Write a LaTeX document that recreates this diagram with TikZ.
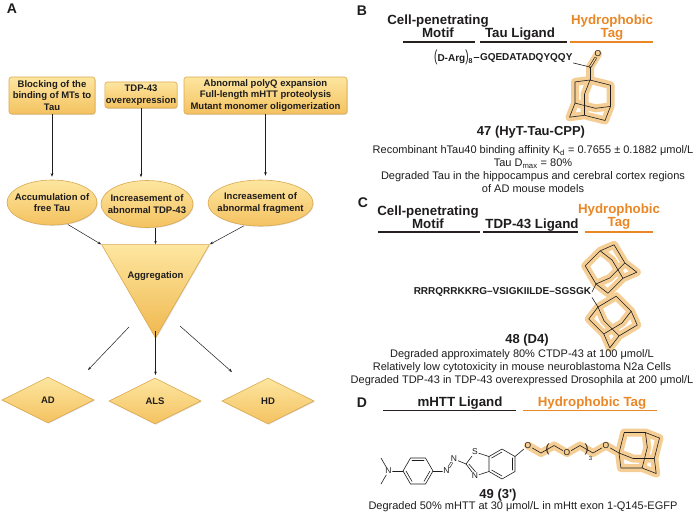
\documentclass[tikz,border=0pt]{standalone}
\usepackage{fontspec}
\setmainfont{Liberation Sans}
\usetikzlibrary{shapes.geometric,arrows.meta,calc,shadows}
\pgfdeclarelayer{bg}
\pgfsetlayers{bg,main}
\definecolor{ink}{RGB}{30,28,28}
\definecolor{hyd}{RGB}{233,135,38}
\definecolor{glowc}{RGB}{244,206,148}
\definecolor{goldT}{RGB}{253,230,160}
\definecolor{goldB}{RGB}{244,194,96}
\definecolor{goldR}{RGB}{240,184,78}
\definecolor{goldD}{RGB}{218,168,78}
\definecolor{rulec}{RGB}{40,32,30}
\tikzset{
bond/.style={line width=0.6pt, ink, line cap=round, line join=round},
glow/.style={line width=8pt, glowc, line cap=round, line join=round},
adam/.pic={
\coordinate (-b1) at (0,-21.2);
\coordinate (-b2) at (20.5,5.2);
\coordinate (-b3) at (-15,1.9);
\coordinate (-b4) at (-5.5,14.1);
\coordinate (-mx) at (20.5,-16);
\coordinate (-nx) at (-20.5,16);
\coordinate (-my) at (-15,-19.3);
\coordinate (-ny) at (15,19.3);
\coordinate (-mz) at (-5.5,-7.1);
\coordinate (-nz) at (5.5,7.1);
\begin{pgfonlayer}{bg}
\draw[glow](-b1) -- (-mx) -- (-b2) -- (-ny) -- (-b4) -- (-nx) -- (-b3) -- (-my) -- cycle (-b1) -- (-mz) -- (-b4) (-b3) -- (-nz) -- (-b2);
\end{pgfonlayer}
\draw[bond](-b1) -- (-mx) -- (-b2) -- (-ny) -- (-b4) -- (-nx) -- (-b3) -- (-my) -- cycle (-b1) -- (-mz) -- (-b4) (-b3) -- (-nz) -- (-b2);
}
}
\begin{document}
\begin{tikzpicture}[x=1pt,y=-1pt,
lab/.style={font=\bfseries\fontsize{14}{14}\selectfont, text=ink},
gold/.style={draw=goldD, line width=0.6pt, top color=goldT, bottom color=goldB, align=center, text=ink, font=\bfseries\fontsize{9.5}{11.5}\selectfont, drop shadow={opacity=0.25, shadow xshift=0.8pt, shadow yshift=-0.8pt}},
box/.style={gold, rectangle, rounded corners=2.5pt, inner sep=1pt},
ell/.style={gold, ellipse, inner sep=-12pt},
dia/.style={gold, diamond, aspect=2, inner sep=0pt, minimum width=92, minimum height=46},
tri/.style={gold, regular polygon, regular polygon sides=3, shape border rotate=180, minimum size=103, inner sep=-6pt, bottom color=goldR},
arr/.style={-{Stealth[length=3.5pt,width=2.6pt]}, line width=0.5pt, ink},
hd/.style={font=\bfseries\fontsize{13.3}{11.7}\selectfont, align=center, inner sep=0pt, anchor=base, text=ink},
hdo/.style={hd, text=hyd},
rl/.style={line width=1.6pt, rulec},
rlo/.style={line width=1.6pt, hyd},
seq/.style={font=\bfseries\fontsize{10}{11}\selectfont, inner sep=0.8pt, text=ink},
atom/.style={font=\fontsize{8.5}{9}\selectfont, inner sep=0.8pt, text=ink},
brk/.style={font=\fontsize{12}{12}\selectfont, inner sep=0pt, text=ink},
cpd/.style={font=\bfseries\fontsize{13}{14}\selectfont, text=ink},
desc/.style={font=\fontsize{11}{13}\selectfont, align=center, text=ink}]
\useasboundingbox (0,0) rectangle (700,517);
\node[lab] (labA) at (12,9){A};
\node[box, minimum width=86, minimum height=37] (box1) at (52,95.5){Blocking of the\\binding of MTs to\\Tau};
\node[box, minimum width=72, minimum height=26] (box2) at (141,95){TDP-43\\overexpression};
\node[box, minimum width=163, minimum height=37] (box3) at (265.5,95.5){Abnormal polyQ expansion\\Full-length mHTT proteolysis\\Mutant monomer oligomerization};
\node[ell, minimum width=90, minimum height=45] (ell1) at (52,202.5){Accumulation of\\free Tau};
\node[ell, minimum width=92, minimum height=47] (ell2) at (147,204){Increasement of\\abnormal TDP-43};
\node[ell, minimum width=105, minimum height=46] (ell3) at (260.5,203){Increasement of\\abnormal fragment};
\node[tri] (agg) at (155.5,275.7){Aggregation};
\node[dia] (dia1) at (48,400){AD};
\node[dia] (dia2) at (155,401){ALS};
\node[dia] (dia3) at (268,401){HD};
\coordinate (agg1) at (129,327);
\coordinate (agg2) at (155.5,331);
\coordinate (agg3) at (180,326);
\coordinate (dia1t) at (88,370);
\coordinate (dia2t) at (155.5,375);
\coordinate (dia3t) at (232,372);
\draw[arr, shorten >=3pt](box1) -- (ell1);
\draw[arr, shorten >=3pt](box2) -- (box2 |- ell2.north);
\draw[arr, shorten >=4pt](box3) -- (box3 |- ell3.north);
\draw[arr, shorten <=1pt](ell1.-55) -- (agg.corner 3);
\draw[arr](agg.90 |- ell2.south) -- (agg.90);
\draw[arr, shorten <=1pt](ell3.-125) -- (agg.corner 2);
\draw[arr](agg1) -- (dia1t);
\draw[arr](agg2) -- (dia2t);
\draw[arr](agg3) -- (dia3t);

\node[lab] (labB) at (362,11){B};
\node[hd] (hb1) at (438,37.7){Cell-penetrating\\Motif};
\node[hd] (hb2) at (520,37.7){Tau Ligand};
\node[hdo] (hb3) at (612,37.7){Hydrophobic\\Tag};
\draw[rl](403,42) -- (475,42);
\draw[rl](480,42) -- (567,42);
\draw[rlo](570,42) -- (653,42);
\node[seq, anchor=east] (darg) at (474,57.5){\scalebox{1}[1.6]{\mdseries(}D-Arg\scalebox{1}[1.6]{\mdseries)}\textsubscript{8}};
\node[seq, anchor=west] (seqB) at (479,57.5){GQEDATADQYQQY};
\coordinate (cB) at (590,67);
\node[atom] (oB) at (598,54){O};
\pic (adB) at (590,101.2){adam};
\begin{pgfonlayer}{bg}
\draw[glow](oB.center) -- (cB) -- (adB-b1);
\end{pgfonlayer}
\draw[bond](darg.east) -- (seqB.west);
\draw[bond](seqB.south east) -- (cB);
\draw[bond, double=glowc, double distance=1.3pt](cB) -- (oB);
\draw[bond](cB) -- (adB-b1);
\node[cpd] (cpd47) at (531,132){47 (HyT-Tau-CPP)};
\node[desc] (txtB) at (533,169.5){Recombinant hTau40 binding affinity K\textsubscript{d} = 0.7655 ± 0.1882 μmol/L\\Tau D\textsubscript{max} = 80\%\\Degraded Tau in the hippocampus and cerebral cortex regions\\of AD mouse models};

\node[lab] (labC) at (363,203){C};
\node[hd] (hc1) at (428,228.5){Cell-penetrating\\Motif};
\node[hd] (hc2) at (532,228.5){TDP-43 Ligand};
\node[hdo] (hc3) at (619,226.7){Hydrophobic\\Tag};
\draw[rl](378,232) -- (480,232);
\draw[rl](483,232) -- (578,232);
\draw[rlo](585,232) -- (653,232);
\node[seq, anchor=east] (seqC) at (592,292){RRRQRRKKRG–VSIGKIILDE–SGSGK};
\pic[rotate=135] (adC1) at (611,269){adam};
\pic[rotate=45] (adC2) at (613,322){adam};
\draw[bond](seqC.east) -- (adC1-b1);
\draw[bond](seqC.south east) -- (adC2-b1);
\node[cpd] (cpd48) at (527,340){48 (D4)};
\node[desc] (txtC) at (522,368){Degraded approximately 80\% CTDP-43 at 100 μmol/L\\Relatively low cytotoxicity in mouse neuroblastoma N2a Cells\\Degraded TDP-43 in TDP-43 overexpressed Drosophila at 200 μmol/L};

\node[lab] (labD) at (362,403){D};
\node[hd] (hd1) at (460,406.7){mHTT Ligand};
\node[hdo] (hd2) at (592,406.7){Hydrophobic Tag};
\draw[rl](383,410.5) -- (516,410.5);
\draw[rlo](523,410.5) -- (657,410.5);
\coordinate (me1) at (381,458);
\coordinate (me2) at (381,484);
\node[atom] (nMe) at (388.5,471){N};
\coordinate (p1) at (403,471);
\coordinate (p2) at (410.5,458);
\coordinate (p3) at (425.5,458);
\coordinate (p4) at (433,471);
\coordinate (p5) at (425.5,484);
\coordinate (p6) at (410.5,484);
\coordinate (pc) at (418,471);
\node[atom] (nA) at (446.5,471){N};
\node[atom] (nB) at (454,459){N};
\coordinate (t2) at (466,464);
\coordinate (tc) at (478.7,464);
\node[atom] (sT) at (475,452){S};
\node[atom] (nT) at (475,476){N};
\coordinate (q1) at (502,449);
\coordinate (q2) at (515,456.5);
\coordinate (q3) at (515,471.5);
\coordinate (q4) at (502,479);
\coordinate (q5) at (489,471.5);
\coordinate (q6) at (489,456.5);
\coordinate (qc) at (502,464);
\node[atom] (o1) at (528,445.5){O};
\coordinate (c1) at (541,453);
\coordinate (c2) at (554,445.5);
\node[atom] (o2) at (567,453){O};
\coordinate (c3) at (580,445.5);
\coordinate (c4) at (593,453);
\node[atom] (o3) at (606,445.5){O};
\pic[rotate=90] (adD) at (640.2,453){adam};
\begin{pgfonlayer}{bg}
\draw[glow](o1.center) -- (c1) -- (c2) -- (o2.center) -- (c3) -- (c4) -- (o3.center) -- (adD-b1);
\end{pgfonlayer}
\draw[bond](nMe) -- (me1);
\draw[bond](nMe) -- (me2);
\draw[bond](nMe) -- (p1);
\draw[bond](p1) -- (p2) -- (p3) -- (p4) -- (p5) -- (p6) -- cycle;
\draw[bond]($(p2)!0.2!(pc)$) -- ($(p3)!0.2!(pc)$);
\draw[bond]($(p4)!0.2!(pc)$) -- ($(p5)!0.2!(pc)$);
\draw[bond]($(p6)!0.2!(pc)$) -- ($(p1)!0.2!(pc)$);
\draw[bond](p4) -- (nA);
\draw[bond, double=white, double distance=1.3pt](nA) -- (nB);
\draw[bond](nB) -- (t2);
\draw[bond](t2) -- (sT);
\draw[bond](sT) -- (q6);
\draw[bond](t2) -- (nT);
\draw[bond, shorten >=1pt]($(t2)!0.22!(tc)$) -- ($(nT.center)!0.3!(tc)$);
\draw[bond](nT) -- (q5);
\draw[bond](q1) -- (q2) -- (q3) -- (q4) -- (q5) -- (q6) -- cycle;
\draw[bond]($(q2)!0.2!(qc)$) -- ($(q3)!0.2!(qc)$);
\draw[bond]($(q4)!0.2!(qc)$) -- ($(q5)!0.2!(qc)$);
\draw[bond]($(q6)!0.2!(qc)$) -- ($(q1)!0.2!(qc)$);
\draw[bond](q2) -- (o1);
\draw[bond](o1) -- (c1) -- (c2) -- (o2);
\draw[bond](o2) -- (c3) -- (c4) -- (o3);
\draw[bond](o3) -- (adD-b1);
\node[brk] (br1) at (547.5,449){(};
\node[brk] (br2) at (586.5,449){)};
\node[atom, font=\fontsize{6}{6}\selectfont] (n3) at (590.5,458){3};
\node[cpd] (cpd49) at (498,495){49 (3\textquotesingle)};
\node[desc] (txtD) at (523,507){Degraded 50\% mHTT at 30 μmol/L in mHtt exon 1-Q145-EGFP};

\end{tikzpicture}
\end{document}
